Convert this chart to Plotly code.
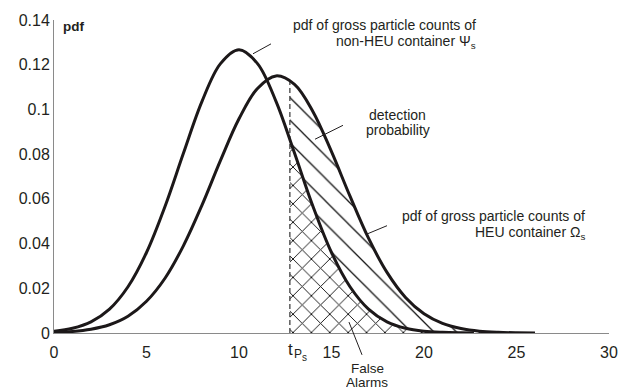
import plotly.graph_objects as go

# ---- data ----
X_NON_HEU = [0, 1, 2, 3, 4, 5, 6, 7, 8, 9, 10, 11, 12, 13, 14, 15, 16, 17, 18, 19, 20, 21, 22, 22.7]
Y_NON_HEU = [0.0008, 0.0021, 0.0050, 0.0107, 0.0207, 0.0360, 0.0566, 0.0805, 0.1036, 0.1205,
             0.1267, 0.1205, 0.1036, 0.0805, 0.0566, 0.0360, 0.0207, 0.0107, 0.0050, 0.0021,
             0.0008, 0.0003, 0.0001, 0.00004]

X_HEU = [0, 1, 2, 3, 4, 5, 6, 7, 8, 9, 10, 11, 12, 13, 14, 15, 16, 17, 18, 19, 20, 21, 22, 23, 24, 25, 26]
Y_HEU = [0.0003, 0.0007, 0.0017, 0.0037, 0.0075, 0.0142, 0.0245, 0.0391, 0.0572, 0.0772,
         0.0958, 0.1094, 0.1150, 0.1112, 0.0990, 0.0811, 0.0612, 0.0424, 0.0271, 0.0159,
         0.0086, 0.0043, 0.0020, 0.0008, 0.0003, 0.0001, 0.00004]

T_P = 12.75              # threshold t_Ps
HEU_AT_TP = 0.113        # HEU pdf at threshold
NON_HEU_AT_TP = 0.0866   # non-HEU pdf at threshold

X_TICKS = [0, 5, 10, 15, 20, 25, 30]
Y_TICKS = [0, 0.02, 0.04, 0.06, 0.08, 0.1, 0.12, 0.14]
Y_TICK_TEXT = ["0", "0.02", "0.04", "0.06", "0.08", "0.1", "0.12", "0.14"]

# ---- styling ----
FONT = "Liberation Sans, Arial, sans-serif"
TXT = "#231f20"
CURVE = "#1c1819"
AXIS = "#8a8a8a"


def tail(xs, ys, x0, y0):
    tx = [x0] + [x for x in xs if x > x0]
    ty = [y0] + [y for x, y in zip(xs, ys) if x > x0]
    return tx, ty


fig = go.Figure()

# detection probability region (single hatch)
dx, dy = tail(X_HEU, Y_HEU, T_P, HEU_AT_TP)
fig.add_trace(go.Scatter(
    x=dx, y=dy, mode="lines", fill="tozeroy",
    line=dict(width=0, shape="spline", color=CURVE),
    fillcolor="rgba(0,0,0,0)",
    fillpattern=dict(shape="\\", size=16, solidity=0.08, fgcolor="#111", bgcolor="white", fillmode="replace"),
    hoverinfo="skip", showlegend=False))

# false alarm region (cross hatch)
fx, fy = tail(X_NON_HEU, Y_NON_HEU, T_P, NON_HEU_AT_TP)
fig.add_trace(go.Scatter(
    x=fx, y=fy, mode="lines", fill="tozeroy",
    line=dict(width=0, shape="spline", color=CURVE),
    fillcolor="rgba(0,0,0,0)",
    fillpattern=dict(shape="x", size=13, solidity=0.14, fgcolor="#111", bgcolor="white", fillmode="replace"),
    hoverinfo="skip", showlegend=False))

# threshold dashed line
fig.add_trace(go.Scatter(
    x=[T_P, T_P], y=[0, HEU_AT_TP], mode="lines",
    line=dict(color="#333", width=1.2, dash="5px,3px"),
    hoverinfo="skip", showlegend=False))

# the two pdf curves
fig.add_trace(go.Scatter(x=X_NON_HEU, y=Y_NON_HEU, mode="lines",
                         line=dict(color=CURVE, width=3, shape="spline"),
                         showlegend=False))
fig.add_trace(go.Scatter(x=X_HEU, y=Y_HEU, mode="lines",
                         line=dict(color=CURVE, width=3, shape="spline"),
                         showlegend=False))

ann = []


def txt(x, y, s, size=14, xanchor="center", bold=False, yref="y", xshift=0, height=None):
    a = dict(x=x, y=y, xref="x", yref=yref, text=("<b>%s</b>" % s) if bold else s,
             showarrow=False, xanchor=xanchor, yanchor="middle", xshift=xshift,
             font=dict(family=FONT, size=size, color=TXT))
    if height:
        a["height"] = height
    ann.append(a)


txt(0.38, 0.1369, "pdf", size=13.5, xanchor="left", bold=True)
txt(22.92, 0.1377, "pdf of gross particle counts of", xanchor="right")
txt(22.92, 0.1302, "non-HEU container Ψ<sub>s</sub>", xanchor="right")
txt(18.59, 0.0973, "detection")
txt(18.59, 0.0907, "probability")
txt(28.81, 0.0524, "pdf of gross particle counts of", xanchor="right")
txt(28.81, 0.0449, "HEU container Ω<sub>s</sub>", xanchor="right")
# texts below the axis (paper y)
txt(16.92, -0.1143, "False", size=13.5, yref="paper", height=13)
txt(16.92, -0.1587, "Alarms", size=13.5, yref="paper", height=13)
txt(T_P, -0.054, "t", size=17, xshift=1, yref="paper")
txt(T_P, -0.0667, "P", size=12, xshift=8, yref="paper")
txt(T_P, -0.0794, "s", size=10, xshift=15, yref="paper")

shapes = []
for (x0, y0, x1, y1) in [(10.757, 0.12489, 11.73, 0.12933),
                         (14.108, 0.08667, 15.62, 0.09289),
                         (16.97, 0.04444, 18.0, 0.048)]:
    shapes.append(dict(type="line", x0=x0, y0=y0, x1=x1, y1=y1, xref="x", yref="y",
                       line=dict(color=TXT, width=1)))
shapes.append(dict(type="line", x0=0.5315, y0=0.0349, x1=0.555, y1=-0.0698, xref="paper", yref="paper",
                   line=dict(color=TXT, width=1)))

fig.update_layout(
    width=631, height=390,
    margin=dict(l=54, r=22, t=18, b=57),
    paper_bgcolor="white", plot_bgcolor="white",
    annotations=ann, shapes=shapes,
    xaxis=dict(range=[0, 30], tickvals=X_TICKS, ticktext=[str(v) for v in X_TICKS],
               showgrid=False, zeroline=False, showline=True, linecolor=AXIS, linewidth=1,
               ticks="", ticklabelstandoff=5, tickfont=dict(family=FONT, size=16, color=TXT)),
    yaxis=dict(range=[0, 0.14], tickvals=Y_TICKS, ticktext=Y_TICK_TEXT,
               showgrid=False, zeroline=False, showline=True, linecolor=AXIS, linewidth=1,
               ticks="", ticklabelstandoff=0, tickfont=dict(family=FONT, size=16, color=TXT)),
)

fig.write_html("out.html")
